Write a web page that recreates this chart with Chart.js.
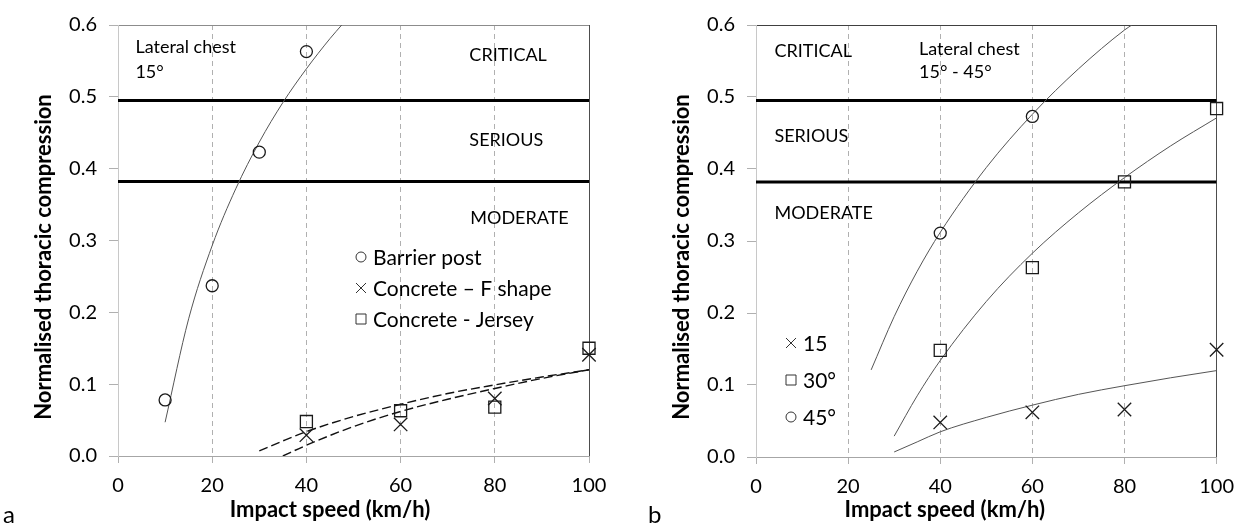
<!DOCTYPE html>
<html>
<head>
<meta charset="utf-8">
<script src="https://cdn.jsdelivr.net/npm/chart.js@4.4.1/dist/chart.umd.min.js"></script>
<style>
  body { margin: 0; background: #fff; width: 1245px; height: 527px; overflow: hidden; position: relative; }
  .panel { position: absolute; top: 0; height: 527px; }
  #wrapA { left: 0; width: 620px; }
  #wrapB { left: 620px; width: 625px; }
</style>
</head>
<body>
<div class="panel" id="wrapA"><canvas id="chartA" width="620" height="527"></canvas></div>
<div class="panel" id="wrapB"><canvas id="chartB" width="625" height="527"></canvas></div>
<script>
// ---- data ----
const xTicks = [0, 20, 40, 60, 80, 100];
const yTicks = [0, 0.1, 0.2, 0.3, 0.4, 0.5, 0.6];
const injuryLimits = [0.495, 0.382]; // critical/serious, serious/moderate

// panel a
const speedPost = [10, 20, 30, 40];
const barrierPost = [0.078, 0.237, 0.423, 0.563];
const speedConcrete = [40, 60, 80, 100];
const fShape = [0.029, 0.044, 0.080, 0.141];
const jersey = [0.048, 0.063, 0.068, 0.150];

const postFitX = [10, 15, 20, 25, 30, 35, 40, 45, 47.5];
const postFitY = [0.047, 0.191, 0.293, 0.372, 0.437, 0.492, 0.539, 0.581, 0.600];
const jerseyFitX = [30, 35, 40, 50, 60, 70, 80, 90, 100];
const jerseyFitY = [0.007, 0.021, 0.034, 0.055, 0.072, 0.087, 0.099, 0.110, 0.120];
const fShapeFitX = [35, 40, 50, 60, 70, 80, 90, 100];
const fShapeFitY = [0.000, 0.015, 0.041, 0.062, 0.079, 0.094, 0.108, 0.120];

// panel b
const speedB = [40, 60, 80, 100];
const angle15 = [0.048, 0.062, 0.066, 0.149];
const angle30 = [0.148, 0.263, 0.382, 0.484];
const speed45 = [40, 60];
const angle45 = [0.311, 0.473];

const fit15X = [30, 35, 40, 50, 60, 70, 80, 90, 100];
const fit15Y = [0.007, 0.021, 0.035, 0.055, 0.072, 0.087, 0.099, 0.110, 0.120];
const fit30X = [30, 35, 40, 50, 60, 70, 80, 90, 100];
const fit30Y = [0.029, 0.085, 0.134, 0.216, 0.283, 0.339, 0.388, 0.432, 0.471];
const fit45X = [25, 30, 35, 40, 50, 60, 70, 80, 81.6];
const fit45Y = [0.121, 0.195, 0.258, 0.312, 0.402, 0.476, 0.539, 0.593, 0.600];

const FONT = "Lato, 'Open Sans', sans-serif";

function pts(xs, ys) {
  return xs.map((x, i) => ({ x: x, y: ys[i] }));
}

function markers(label, xs, ys, style) {
  const radius = { circle: 6, rect: 8.5, crossRot: 9.5 }[style];
  return {
    label: label, data: pts(xs, ys), showLine: false, clip: false,
    pointStyle: style, pointRadius: radius, pointHoverRadius: radius,
    pointBorderColor: '#1a1a1a', pointBackgroundColor: 'rgba(0,0,0,0)', pointBorderWidth: 1.3,
  };
}

function curve(xs, ys, dashed) {
  return {
    label: '', data: pts(xs, ys), showLine: true, pointRadius: 0,
    borderColor: dashed ? '#111' : '#555', borderWidth: dashed ? 1.4 : 1,
    borderDash: dashed ? [9, 4] : [], cubicInterpolationMode: 'monotone',
  };
}

function limitLine(v) {
  return {
    label: '', data: pts([xTicks[0], xTicks[xTicks.length - 1]], [v, v]),
    showLine: true, pointRadius: 0, borderColor: '#000', borderWidth: 3,
  };
}

function drawMarker(ctx, style, x, y, r) {
  ctx.beginPath();
  if (style === 'circle') {
    ctx.arc(x, y, r, 0, Math.PI * 2);
  } else if (style === 'rect') {
    ctx.rect(x - r, y - r, 2 * r, 2 * r);
  } else {
    ctx.moveTo(x - r, y - r); ctx.lineTo(x + r, y + r);
    ctx.moveTo(x + r, y - r); ctx.lineTo(x - r, y + r);
  }
  ctx.stroke();
}

const panelText = {
  id: 'panelText',
  afterDatasetsDraw(chart, args, opts) {
    const { ctx, chartArea: a, scales: { x, y } } = chart;
    ctx.save();
    ctx.fillStyle = '#000';
    ctx.textBaseline = 'middle';

    ctx.font = '18px ' + FONT;
    opts.notes.forEach(n => {
      ctx.textAlign = 'left';
      ctx.fillText(n.text, x.getPixelForValue(n.x), y.getPixelForValue(n.y));
    });

    ctx.font = '21px ' + FONT;
    ctx.textAlign = 'left';
    ctx.strokeStyle = '#333';
    ctx.lineWidth = 1;
    opts.legend.items.forEach((idx, i) => {
      const ds = chart.data.datasets[idx];
      const px = a.left + opts.legend.x;
      const py = a.top + opts.legend.y + i * opts.legend.gap;
      drawMarker(ctx, ds.pointStyle, px, py, { circle: 5, rect: 5, crossRot: 5 }[ds.pointStyle]);
      ctx.fillText(ds.label, px + 12, py + 1);
    });

    ctx.font = 'bold 22px ' + FONT;
    ctx.textAlign = 'center';
    ctx.fillText(opts.xTitle, a.left + a.width * opts.xTitlePos, 510);
    ctx.save();
    ctx.translate(opts.yTitleX, 257);
    ctx.rotate(-Math.PI / 2);
    ctx.fillText(opts.yTitle, 0, 0);
    ctx.restore();

    ctx.font = '24px ' + FONT;
    ctx.textAlign = 'left';
    ctx.textBaseline = 'alphabetic';
    ctx.fillText(opts.letter, opts.letterX, 523);
    ctx.restore();
  }
};

function makeOptions(cfg) {
  return {
    responsive: false,
    animation: false,
    events: [],
    layout: { padding: { top: 25, right: cfg.padRight, left: 0, bottom: 0 } },
    plugins: {
      legend: { display: false },
      tooltip: { enabled: false },
      panelText: cfg.text,
    },
    scales: {
      x: {
        type: 'linear', min: xTicks[0], max: xTicks[xTicks.length - 1],
        afterFit: s => { s.height = cfg.xHeight; },
        afterBuildTicks: s => { s.ticks = xTicks.map(v => ({ value: v })); },
        ticks: { font: { family: FONT, size: 20 }, color: '#000', padding: 11 },
        grid: {
          color: c => (c.tick && c.tick.value === 100) ? '#4d4d4d' : '#b0b0b0',
          tickColor: '#b0b0b0', tickLength: 7, lineWidth: 1,
        },
        border: {
          color: '#a6a6a6',
          dash: c => (c.tick && (c.tick.value === 0 || c.tick.value === 100)) ? [] : [5, 4],
        },
      },
      y: {
        type: 'linear', min: yTicks[0], max: yTicks[yTicks.length - 1],
        afterFit: s => { s.width = cfg.yWidth; },
        afterBuildTicks: s => { s.ticks = yTicks.map(v => ({ value: v })); },
        ticks: { font: { family: FONT, size: 20 }, color: '#000', padding: 12, callback: v => v.toFixed(1) },
        grid: {
          color: c => (c.tick && Math.abs(c.tick.value - 0.6) < 1e-6) ? cfg.topColor : 'rgba(0,0,0,0)',
          tickColor: '#b0b0b0', tickLength: 9,
        },
        border: { color: '#c8c8c8' },
      },
    },
  };
}

new Chart(document.getElementById('chartA'), {
  type: 'scatter',
  data: {
    datasets: [
      markers('Barrier post', speedPost, barrierPost, 'circle'),
      markers('Concrete \u2013 F shape', speedConcrete, fShape, 'crossRot'),
      markers('Concrete - Jersey', speedConcrete, jersey, 'rect'),
      curve(postFitX, postFitY, false),
      curve(jerseyFitX, jerseyFitY, true),
      curve(fShapeFitX, fShapeFitY, true),
      limitLine(injuryLimits[0]),
      limitLine(injuryLimits[1]),
    ],
  },
  options: makeOptions({
    padRight: 31, yWidth: 118, xHeight: 71, topColor: '#8c8c8c',
    text: {
      notes: [
        { text: 'Lateral chest', x: 3.7, y: 0.569 },
        { text: '15\u00b0', x: 3.7, y: 0.535 },
        { text: 'CRITICAL', x: 74.6, y: 0.558 },
        { text: 'SERIOUS', x: 74.6, y: 0.439 },
        { text: 'MODERATE', x: 74.8, y: 0.331 },
      ],
      legend: { items: [0, 1, 2], x: 243, y: 232, gap: 31 },
      xTitle: 'Impact speed (km/h)',
      xTitlePos: 0.45,
      yTitle: 'Normalised thoracic compression',
      yTitleX: 44,
      letter: 'a', letterX: 3,
    },
  }),
  plugins: [panelText],
});

new Chart(document.getElementById('chartB'), {
  type: 'scatter',
  data: {
    datasets: [
      markers('15', speedB, angle15, 'crossRot'),
      markers('30\u00b0', speedB, angle30, 'rect'),
      markers('45\u00b0', speed45, angle45, 'circle'),
      curve(fit15X, fit15Y, false),
      curve(fit30X, fit30Y, false),
      curve(fit45X, fit45Y, false),
      limitLine(injuryLimits[0]),
      limitLine(injuryLimits[1]),
    ],
  },
  options: makeOptions({
    padRight: 18, yWidth: 136, xHeight: 70, topColor: '#404040',
    text: {
      notes: [
        { text: 'CRITICAL', x: 4.0, y: 0.564 },
        { text: 'SERIOUS', x: 4.0, y: 0.445 },
        { text: 'MODERATE', x: 4.0, y: 0.339 },
        { text: 'Lateral chest', x: 35.4, y: 0.567 },
        { text: '15\u00b0 - 45\u00b0', x: 35.4, y: 0.534 },
      ],
      legend: { items: [0, 1, 2], x: 35, y: 318, gap: 37 },
      xTitle: 'Impact speed (km/h)',
      xTitlePos: 0.41,
      yTitle: 'Normalised thoracic compression',
      yTitleX: 62,
      letter: 'b', letterX: 28,
    },
  }),
  plugins: [panelText],
});
</script>
</body>
</html>
